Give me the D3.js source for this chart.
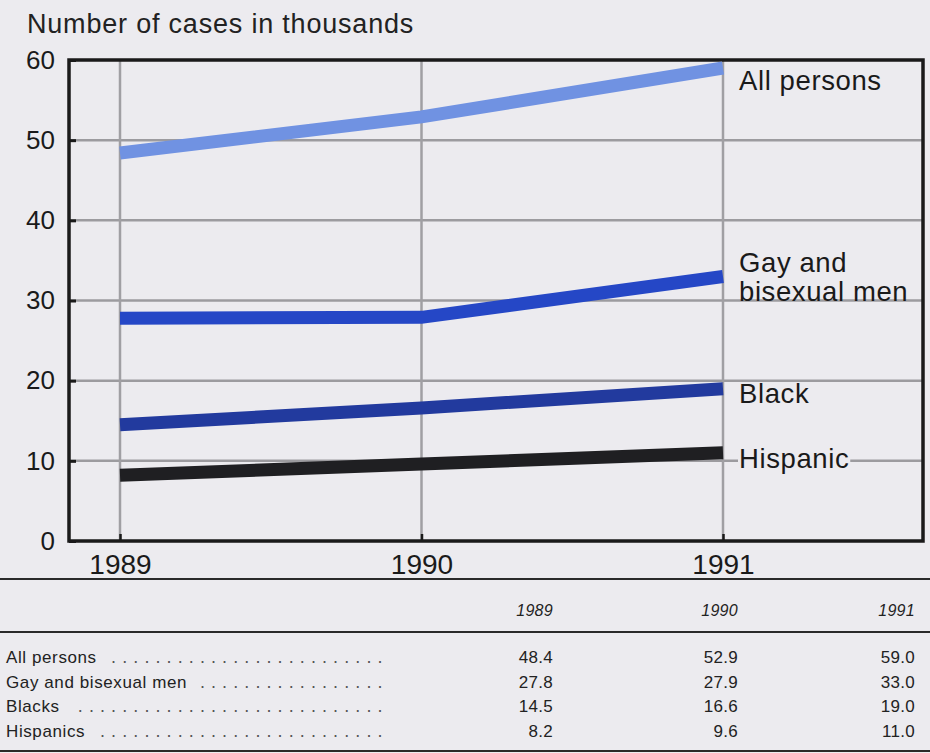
<!DOCTYPE html>
<html><head><meta charset="utf-8">
<script src="https://cdn.jsdelivr.net/npm/d3@7"></script>
<style>
html,body{margin:0;padding:0;background:#ecebef;}
svg{display:block;font-family:"Liberation Sans",Arial,Helvetica,sans-serif;}
</style></head><body>
<svg id="chart" width="930" height="753"></svg>
<script>
const years = [1989, 1990, 1991];
const seriesNames = ["All persons", "Gay and bisexual men", "Blacks", "Hispanics"];
const chartLabels = [["All persons"], ["Gay and", "bisexual men"], ["Black"], ["Hispanic"]];
const allPersons = [48.4, 52.9, 59.0];
const gayBisexualMen = [27.8, 27.9, 33.0];
const blacks = [14.5, 16.6, 19.0];
const hispanics = [8.2, 9.6, 11.0];
const yTicks = [0, 10, 20, 30, 40, 50, 60];
const colors = ["#7092e2", "#2547c6", "#223a9e", "#1f1f22"];

const values = [allPersons, gayBisexualMen, blacks, hispanics];
const svg = d3.select("#chart");
const W = 930;
const BG = "#ecebef";
const FONT = "Liberation Sans, Arial, sans-serif";
const plot = {left: 69, right: 923, top: 60, bottom: 541};

const x = d3.scaleLinear().domain([1989, 1991]).range([120, 723]);
const y = d3.scaleLinear().domain([0, 60]).range([plot.bottom, plot.top]);

// title
svg.append("text").attr("x", 27).attr("y", 33).attr("font-size", 27).attr("letter-spacing", 0.8)
  .attr("fill", "#222").text("Number of cases in thousands");

// gridlines
const g = svg.append("g");
g.selectAll("line.hg").data(yTicks.filter(d => d > 0 && d < 60)).join("line")
  .attr("x1", plot.left).attr("x2", plot.right).attr("y1", d => y(d)).attr("y2", d => y(d))
  .attr("stroke", "#9c9b9f").attr("stroke-width", 2.5);
g.selectAll("line.vg").data(years).join("line")
  .attr("x1", d => x(d)).attr("x2", d => x(d)).attr("y1", plot.top).attr("y2", plot.bottom)
  .attr("stroke", "#a09fa3").attr("stroke-width", 2.5);

// y axis ticks (inward) and labels
const yAxis = d3.axisLeft(y).tickValues(yTicks).tickSize(-7).tickPadding(14).tickFormat(d3.format("d"));
const ya = svg.append("g").attr("transform", `translate(${plot.left},0)`).call(yAxis);
ya.select(".domain").remove();
ya.selectAll(".tick line").attr("stroke", "#1a1a1a").attr("stroke-width", 3);
ya.selectAll(".tick text").attr("font-size", 26).attr("fill", "#1a1a1a").attr("font-family", FONT);

// x axis ticks and labels
const xAxis = d3.axisBottom(x).tickValues(years).tickSize(-7).tickPadding(13).tickFormat(d3.format("d"));
const xa = svg.append("g").attr("transform", `translate(0,${plot.bottom})`).call(xAxis);
xa.select(".domain").remove();
xa.selectAll(".tick line").attr("stroke", "#1a1a1a").attr("stroke-width", 2.5);
xa.selectAll(".tick text").attr("font-size", 28).attr("fill", "#1a1a1a").attr("font-family", FONT);

// frame
svg.append("rect").attr("x", plot.left).attr("y", plot.top)
  .attr("width", plot.right - plot.left).attr("height", plot.bottom - plot.top)
  .attr("fill", "none").attr("stroke", "#1a1a1a").attr("stroke-width", 3.5);

// lines
const line = d3.line().x((d, i) => x(years[i])).y(d => y(d));
values.forEach((vals, k) => {
  svg.append("path").datum(vals).attr("d", line).attr("fill", "none")
    .attr("stroke", colors[k]).attr("stroke-width", 13).attr("stroke-linecap", "butt")
    .attr("stroke-linejoin", "miter");
});

// line labels
const labelY = [[80], [262, 291], [393], [458]];
chartLabels.forEach((lines, k) => {
  lines.forEach((t, j) => {
    const tx = svg.append("text").attr("x", 739).attr("y", labelY[k][j]).attr("dy", "0.35em")
      .attr("font-size", 27.5).attr("letter-spacing", 0.6).attr("fill", "#1a1a1a").text(t);
    if (k === 3) {
      const bb = tx.node().getBBox();
      svg.insert("rect", () => tx.node()).attr("x", bb.x - 1).attr("y", y(10) - 3)
        .attr("width", bb.width + 2).attr("height", 6).attr("fill", BG);
    }
  });
});

// table
const rule = (yy, w) => svg.append("line").attr("x1", 0).attr("x2", W).attr("y1", yy).attr("y2", yy)
  .attr("stroke", "#2a2a2a").attr("stroke-width", w);
rule(579, 2);
rule(632, 2);
rule(751, 2);

const colX = d3.scaleOrdinal().domain(years).range([553, 738, 915]);
years.forEach(yr => {
  svg.append("text").attr("x", colX(yr)).attr("y", 616).attr("text-anchor", "end")
    .attr("font-size", 16).attr("letter-spacing", 0.3).attr("font-style", "italic").attr("fill", "#222").text(yr);
});
const rowY = d3.scalePoint().domain(seriesNames).range([663, 737]);
seriesNames.forEach((name, k) => {
  const t = svg.append("text").attr("x", 6).attr("y", rowY(name)).attr("font-size", 17)
    .attr("letter-spacing", 0.6).attr("fill", "#222").text(name);
  const w = t.node().getComputedTextLength();
  const dotStart = 6 + w + 10;
  const n = Math.floor((380 - dotStart) / 11.1) + 1;
  for (let i = 0; i < n; i++) {
    svg.append("text").attr("x", 380 - (n - 1 - i) * 11.1).attr("y", rowY(name)).attr("font-size", 18)
      .attr("text-anchor", "middle").attr("fill", "#555").text(".");
  }
  years.forEach((yr, i) => {
    svg.append("text").attr("x", colX(yr)).attr("y", rowY(name)).attr("text-anchor", "end")
      .attr("font-size", 17).attr("letter-spacing", 0.3).attr("fill", "#222").text(values[k][i].toFixed(1));
  });
});
</script>
</body></html>
